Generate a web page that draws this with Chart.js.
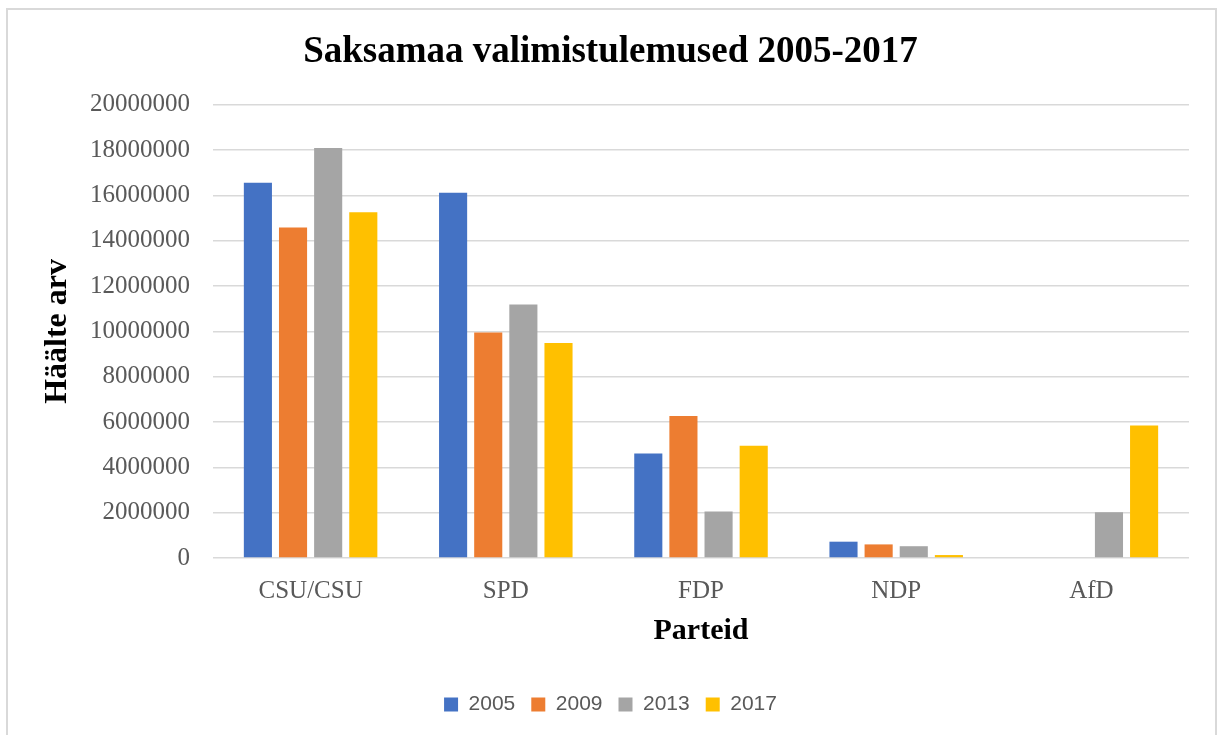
<!DOCTYPE html>
<html>
<head>
<meta charset="utf-8">
<script src="https://cdn.jsdelivr.net/npm/chart.js@4/dist/chart.umd.min.js"></script>
<style>
  html, body { margin: 0; padding: 0; background: #fff; }
  #wrap { position: absolute; left: 0; top: 0; width: 1222px; height: 735px; }
</style>
</head>
<body>
<div id="wrap"><canvas id="chart" width="1222" height="735"></canvas></div>
<script>
const parties = ["CSU/CSU", "SPD", "FDP", "NDP", "AfD"];
const years = ["2005", "2009", "2013", "2017"];
const votes2005 = [16560000, 16120000, 4610000, 720000, null];
const votes2009 = [14590000, 9950000, 6270000, 600000, null];
const votes2013 = [18100000, 11190000, 2050000, 520000, 2020000];
const votes2017 = [15260000, 9490000, 4960000, 130000, 5850000];
const colors = ["#4472C4", "#ED7D31", "#A5A5A5", "#FFC000"];

const serif = "'Liberation Serif', 'Times New Roman', serif";

// light frame around the whole chart
const framePlugin = {
    id: "frame",
    beforeDraw(chart) {
        const ctx = chart.ctx;
        ctx.save();
        ctx.fillStyle = "#fff";
        ctx.fillRect(0, 0, chart.width, chart.height);
        ctx.strokeStyle = "#d9d9d9";
        ctx.lineWidth = 2;
        ctx.strokeRect(7, 9, 1209, 740);
        ctx.restore();
    }
};

const allVotes = [votes2005, votes2009, votes2013, votes2017];

new Chart(document.getElementById("chart"), {
    type: "bar",
    data: {
        labels: parties,
        datasets: years.map((y, i) => ({
            label: y,
            data: allVotes[i],
            backgroundColor: colors[i],
            categoryPercentage: 0.72,
            barPercentage: 0.8
        }))
    },
    options: {
        responsive: false,
        animation: false,
        layout: { padding: { top: 8, left: 32, right: 33, bottom: 10 } },
        plugins: {
            title: {
                display: true,
                text: "Saksamaa valimistulemused 2005-2017",
                color: "#000",
                font: { family: serif, size: 37, weight: "bold" },
                padding: { top: 22, bottom: 30.5 }
            },
            legend: {
                position: "bottom",
                labels: {
                    color: "#595959",
                    font: { family: "'Liberation Sans', Arial, sans-serif", size: 21 },
                    boxWidth: 14,
                    boxHeight: 14,
                    padding: 16
                }
            },
            tooltip: { enabled: false }
        },
        scales: {
            x: {
                grid: { display: false, drawTicks: false },
                border: { display: false },
                ticks: {
                    color: "#595959",
                    font: { family: serif, size: 25 },
                    padding: 18
                },
                title: {
                    display: true,
                    text: "Parteid",
                    color: "#000",
                    font: { family: serif, size: 30, weight: "bold" },
                    padding: { top: 4, bottom: 29 }
                },
                afterFit(scale) { scale.height = 120; }
            },
            y: {
                min: 0,
                max: 20000000,
                grid: { color: "#d9d9d9", lineWidth: 1.5, drawTicks: false },
                border: { display: false },
                ticks: {
                    stepSize: 2000000,
                    color: "#595959",
                    font: { family: serif, size: 25 },
                    padding: 23,
                    callback: v => String(v)
                },
                title: {
                    display: true,
                    text: "Häälte arv",
                    color: "#000",
                    font: { family: serif, size: 32, weight: "bold" },
                    padding: { top: 7, bottom: 4 }
                },
                afterFit(scale) { scale.width = 181; }
            }
        }
    },
    plugins: [framePlugin]
});
</script>
</body>
</html>
